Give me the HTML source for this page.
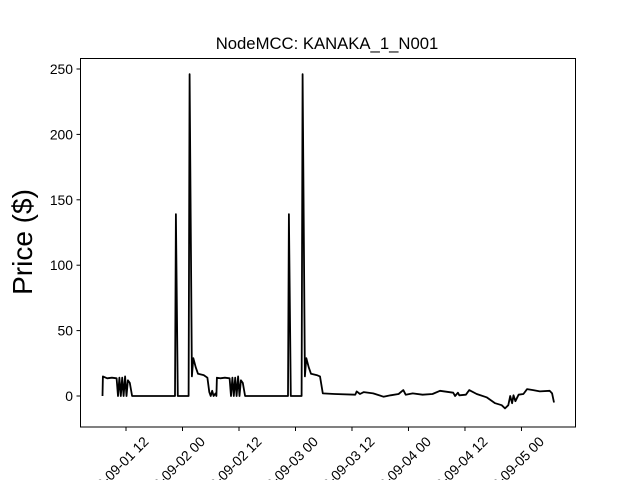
<!DOCTYPE html>
<html><head><meta charset="utf-8"><style>
html,body{margin:0;padding:0;background:#fff;overflow:hidden;width:640px;height:480px;}
svg{display:block;font-family:"Liberation Sans","DejaVu Sans",sans-serif;overflow:hidden;}
</style></head><body>
<svg id="chart" width="640" height="480" viewBox="0 0 640 480">
<rect x="0" y="0" width="640" height="480" fill="#fff"/>
<text x="327" y="49" text-anchor="middle" font-size="16.7">NodeMCC: KANAKA_1_N001</text>
<text transform="translate(32,242) rotate(-90)" text-anchor="middle" font-size="28">Price ($)</text>
<g id="ticks"></g>
<path id="series" fill="none" stroke="#000" stroke-width="1.8" stroke-linejoin="round"/>
<rect x="80.5" y="58.5" width="495" height="368.5" fill="none" stroke="#000" stroke-width="1"/>
</svg>
<script>
// hours since 2020-09-01 00:00 and prices, aligned line by line
const hours = [
7.0,7.1,8,9,10,10.3,10.6,10.9,11.2,11.5,11.8,12.1,12.4,12.8,13.3,
22.4,22.6,23.0,25.3,25.5,26.0,26.3,26.8,27.3,28.5,29.3,29.7,30.0,30.3,30.6,31.0,31.2,
31.3,32,33,34,34.3,34.6,34.9,35.2,35.5,35.8,36.1,36.4,36.8,37.3,
46.4,46.6,47.0,49.3,49.5,50.0,50.3,50.8,51.3,52.5,53.2,53.8,
56.3,60.7,61,61.7,62.5,64.5,66.7,68.2,69.9,70.9,71.4,72.9,75,77.1,78.7,81.5,81.9,82.5,82.8,84.2,84.9,86.5,88.6,90.4,91.8,92.5,93.2,93.6,94,94.3,94.7,95.4,96.4,97.2,98.5,99.9,102,102.5,102.9];
const prices = [
0,15,13.5,14,13.5,0,14,0,14,0,15,0,12,10,0,
0,139,0,0,246,15,29,22,17,16,14,3,0,4,0,2,0,
14,13.5,14,13.5,0,14,0,14,0,15,0,12,10,0,
0,139,0,0,246,15,29,22,17,16,15,2,
1.5,1,3.5,1.5,3,2,-0.5,0.5,1.5,4.5,1,2,1,1.5,4,2.5,0,2.5,0.5,1,4.5,1.5,-1,-5.5,-7,-9.5,-7,0,-5.5,0.5,-4,1,1.5,5.3,4.5,3.5,4,2,-5];
const yTicks = [0,50,100,150,200,250];
const xTickHours = [12,24,36,48,60,72,84,96];
const xTickLabels = ["2020-09-01 12","2020-09-02 00","2020-09-02 12","2020-09-03 00","2020-09-03 12","2020-09-04 00","2020-09-04 12","2020-09-05 00"];

const ns="http://www.w3.org/2000/svg";
function xs(h){return 126 + (h-12)*4.708;}
function ys(v){return 396 - v*1.308;}
const g=document.getElementById('ticks');
yTicks.forEach(v=>{
  const y=ys(v);
  const l=document.createElementNS(ns,'line');
  l.setAttribute('x1',76.5);l.setAttribute('x2',80.5);l.setAttribute('y1',y);l.setAttribute('y2',y);l.setAttribute('stroke','#000');
  
  
  g.appendChild(l);
  const t=document.createElementNS(ns,'text');
  t.setAttribute('x',73);t.setAttribute('y',y+5);t.setAttribute('text-anchor','end');t.setAttribute('font-size','13.9');
  t.textContent=v;
  
  
  g.appendChild(t);
});
xTickHours.forEach((h,i)=>{
  const x=xs(h);
  const l=document.createElementNS(ns,'line');
  l.setAttribute('x1',x);l.setAttribute('x2',x);l.setAttribute('y1',427);l.setAttribute('y2',431);l.setAttribute('stroke','#000');
  
  
  g.appendChild(l);
  const t=document.createElementNS(ns,'text');
  t.setAttribute('transform','translate('+(x-12)+',471) rotate(-45)');
  t.setAttribute('text-anchor','middle');t.setAttribute('font-size','13.9');t.setAttribute('dy','5');
  t.textContent=xTickLabels[i];
  
  
  g.appendChild(t);
});
let d='';
hours.forEach((h,i)=>{d+=(i?'L':'M')+xs(h).toFixed(1)+','+ys(prices[i]).toFixed(1);});
document.getElementById('series').setAttribute('d',d);
</script>
</body></html>
